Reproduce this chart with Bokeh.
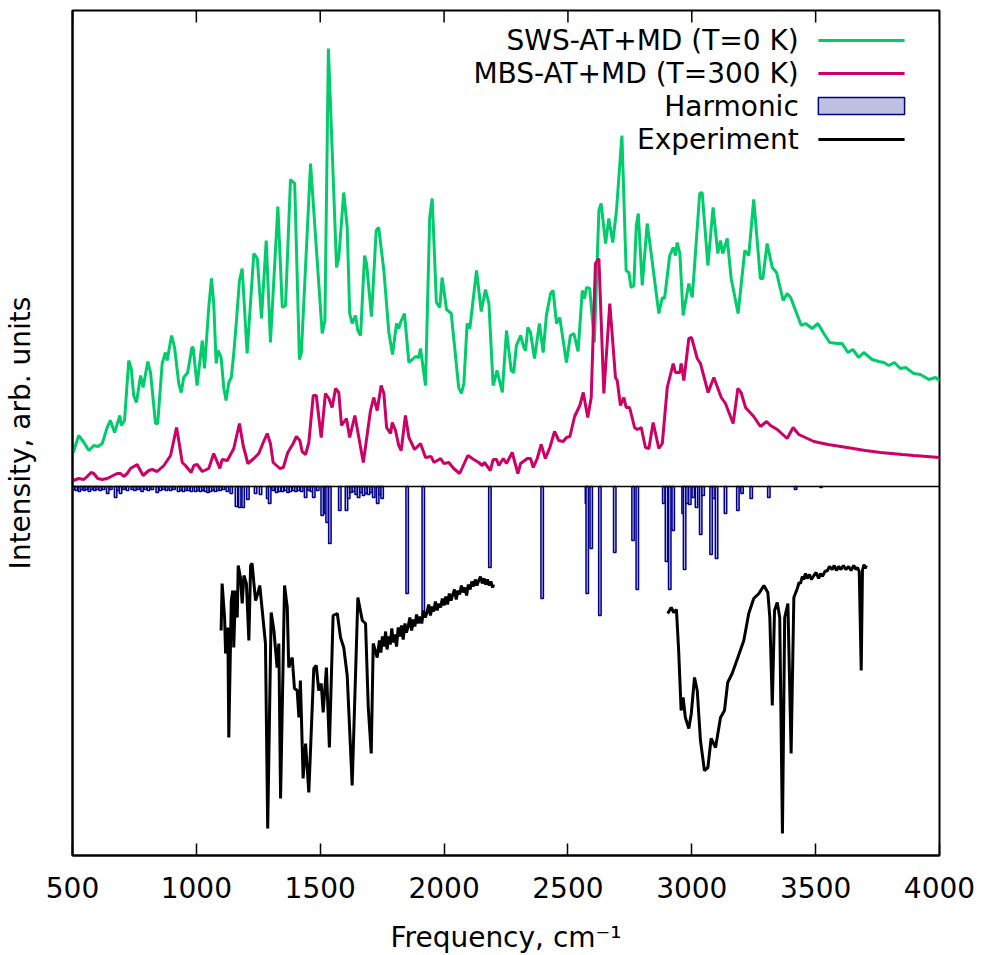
from bokeh.plotting import figure
from bokeh.models import Range1d, FixedTicker, Span, ColumnDataSource
from bokeh.core.properties import value
from bokeh.embed import file_html
from bokeh.resources import INLINE

# ---------------- data ----------------
sws_freq = [503, 525, 546, 566, 586, 602, 620, 640, 653, 670, 691, 697, 710, 727, 737, 747, 758, 775, 785,
            804, 815, 835, 844, 862, 875, 882, 900, 912, 929, 939, 949, 965, 982, 987, 1003, 1024, 1033, 1050,
            1061, 1070, 1080, 1088, 1100, 1111, 1120, 1131, 1141, 1151, 1162, 1174, 1185, 1205, 1232, 1246,
            1263, 1282, 1299, 1329, 1347, 1360, 1380, 1397, 1416, 1424, 1461, 1508, 1519, 1533, 1566, 1575,
            1595, 1609, 1619, 1629, 1642, 1652, 1663, 1679, 1687, 1707, 1726, 1736, 1757, 1777, 1792, 1808,
            1817, 1824, 1840, 1858, 1885, 1898, 1905, 1925, 1942, 1952, 1969, 1983, 1992, 2010, 2029, 2059,
            2070, 2080, 2093, 2104, 2131, 2150, 2167, 2181, 2198, 2214, 2235, 2252, 2271, 2281, 2292, 2309,
            2322, 2329, 2338, 2349, 2365, 2385, 2400, 2413, 2430, 2440, 2454, 2467, 2494, 2510, 2524, 2541,
            2558, 2567, 2575, 2588, 2607, 2625, 2634, 2652, 2665, 2681, 2696, 2712, 2718, 2735, 2746, 2755,
            2766, 2776, 2784, 2800, 2820, 2833, 2867, 2881, 2890, 2894, 2911, 2925, 2934, 2941, 2952, 2965,
            2988, 3002, 3032, 3042, 3065, 3086, 3105, 3116, 3125, 3143, 3159, 3187, 3214, 3230, 3250, 3277,
            3287, 3304, 3325, 3342, 3369, 3385, 3399, 3442, 3459, 3486, 3509, 3533, 3557, 3587, 3607, 3630,
            3650, 3674, 3694, 3728, 3755, 3775, 3795, 3818, 3842, 3863, 3896, 3923, 3957, 3984, 4000]
sws_int = [34, 51, 44, 36, 41, 40, 43, 59, 66, 54, 71, 61, 66, 126, 118, 91, 84, 111, 99,
           125, 114, 63, 63, 123, 134, 126, 151, 139, 103, 94, 109, 114, 139, 139, 101, 146, 118, 179,
           208, 184, 123, 136, 129, 98, 86, 104, 109, 133, 166, 206, 218, 133, 233, 228,
           168, 246, 144, 280, 179, 181, 307, 303, 127, 134, 323, 153, 166, 438, 219, 229,
           294, 259, 173, 163, 171, 156, 151, 231, 223, 170, 256, 259, 216, 154, 132, 163,
           158, 164, 173, 124, 130, 129, 138, 101, 269, 288, 184, 179, 209, 177, 173, 99,
           93, 103, 163, 158, 216, 175, 197, 183, 101, 116, 94, 156, 116, 114, 141, 151,
           139, 136, 159, 154, 128, 163, 134, 171, 193, 196, 163, 169, 124, 151, 153, 135,
           196, 188, 199, 198, 144, 276, 283, 243, 268, 244, 276, 331, 351, 216, 214, 199,
           201, 261, 273, 201, 263, 239, 173, 189, 188, 196, 231, 239, 231, 244, 233, 171,
           203, 189, 293, 294, 221, 279, 233, 246, 233, 248, 208, 173, 236, 231, 287, 208,
           208, 243, 219, 214, 186, 193, 189, 161, 163, 158, 163, 153, 144, 143, 143, 134,
           137, 129, 134, 127, 125, 124, 121, 124, 118, 119, 113, 112, 107, 109, 106]

mbs_freq = [503, 525, 546, 559, 575, 586, 602, 620, 640, 680, 694, 707, 721, 734, 761, 785, 808, 822, 842,
            869, 896, 920, 929, 943, 956, 979, 990, 1003, 1024, 1050, 1070, 1095, 1104, 1125, 1151, 1174,
            1189, 1208, 1232, 1252, 1270, 1286, 1299, 1310, 1337, 1351, 1369, 1391, 1404, 1418, 1427, 1441,
            1454, 1472, 1484, 1504, 1521, 1535, 1548, 1562, 1575, 1586, 1606, 1619, 1640, 1674, 1703, 1716,
            1730, 1746, 1757, 1768, 1784, 1791, 1804, 1817, 1827, 1844, 1858, 1881, 1905, 1925, 1948, 1959,
            1986, 1999, 2019, 2039, 2063, 2096, 2120, 2140, 2154, 2163, 2181, 2187, 2198, 2212, 2221, 2239,
            2252, 2275, 2298, 2309, 2336, 2349, 2360, 2376, 2392, 2409, 2427, 2446, 2463, 2481, 2494, 2508,
            2527, 2548, 2562, 2580, 2594, 2611, 2625, 2645, 2669, 2692, 2699, 2712, 2726, 2735, 2749, 2769,
            2780, 2796, 2813, 2827, 2844, 2867, 2881, 2901, 2925, 2934, 2952, 2957, 2968, 2988, 2999, 3022,
            3035, 3066, 3089, 3119, 3136, 3167, 3186, 3199, 3217, 3250, 3277, 3302, 3318, 3345, 3385, 3409,
            3432, 3493, 3550, 3627, 3700, 3762, 3850, 3896, 4000]
mbs_int = [6, 8, 7, 10, 14, 13, 8, 7, 8, 13, 13, 10, 13, 18, 22, 11, 16, 17, 15,
           21, 31, 59, 46, 24, 21, 14, 21, 22, 15, 18, 33, 18, 27, 26, 38, 63,
           41, 23, 28, 33, 44, 53, 43, 24, 18, 19, 34, 43, 50, 46, 35, 32,
           44, 91, 91, 49, 93, 88, 79, 98, 94, 61, 68, 49, 71, 24, 76, 89,
           76, 101, 93, 59, 53, 64, 56, 41, 36, 71, 49, 37, 43, 29, 30, 24,
           28, 23, 24, 18, 13, 31, 27, 24, 21, 24, 18, 16, 27, 27, 21, 28,
           23, 34, 13, 23, 28, 28, 19, 28, 42, 28, 39, 55, 46, 45, 49, 50,
           70, 81, 94, 69, 89, 223, 228, 93, 183, 109, 106, 81, 89, 79, 79, 59,
           57, 59, 39, 38, 64, 38, 43, 99, 123, 114, 114, 123, 106, 148, 149, 128,
           123, 94, 109, 89, 83, 63, 98, 94, 79, 70, 60, 65, 61, 57, 48, 59,
           52, 45, 42, 39, 36, 34, 32, 31, 29]

harm_freq = [505, 515, 528, 536, 548, 556, 568, 577, 590, 600, 612, 625, 642, 655, 674, 684, 694, 708, 722,
             741, 752, 765, 781, 795, 807, 822, 842, 855, 867, 880, 896, 910, 928, 938, 948, 958, 968, 980,
             997, 1007, 1017, 1027, 1037, 1047, 1057, 1067, 1077, 1087, 1097, 1110, 1125, 1141, 1162, 1175,
             1189, 1208, 1239, 1259, 1288, 1296, 1310, 1324, 1336, 1348, 1360, 1370, 1380, 1392, 1402, 1412,
             1425, 1441, 1455, 1465, 1474, 1490, 1508, 1521, 1528, 1539, 1579, 1606, 1615, 1625, 1634, 1645,
             1655, 1665, 1675, 1685, 1695, 1705, 1716, 1732, 1742, 1750, 1851, 1916, 2185, 2396, 2575, 2578,
             2594, 2629, 2689, 2763, 2780, 2887, 2898, 2911, 2925, 2965, 2971, 2981, 2992, 3006, 3019, 3036,
             3046, 3078, 3089, 3100, 3136, 3186, 3203, 3240, 3311, 3419, 3522]
harm_int = [3, 4, 5, 3, 4, 3, 5, 3, 4, 3, 4, 3, 7, 3, 11, 4, 7, 3, 4,
            3, 4, 3, 5, 3, 4, 3, 6, 4, 3, 4, 4, 3, 5, 4, 5, 4, 4, 5,
            5, 4, 5, 4, 5, 6, 5, 4, 5, 4, 4, 3, 5, 7, 20, 21,
            21, 13, 7, 8, 12, 17, 4, 6, 5, 5, 4, 6, 5, 4, 5, 4,
            5, 11, 4, 5, 11, 4, 29, 27, 36, 57, 24, 24, 12, 6, 5, 8,
            11, 6, 9, 7, 8, 6, 11, 17, 8, 12, 107, 131, 81, 112, 17, 107,
            62, 129, 66, 54, 103, 17, 75, 103, 44, 27, 83, 17, 18, 11, 21, 48,
            9, 68, 12, 72, 27, 24, 7, 12, 11, 3, 1]

exp1_freq = [1100, 1104, 1114, 1118, 1127, 1131, 1141, 1147, 1151, 1158, 1165, 1169, 1178, 1185, 1192, 1202,
             1212, 1219, 1225, 1232, 1239, 1248, 1256, 1266, 1279, 1288, 1302, 1313, 1326, 1333, 1340, 1356,
             1367, 1373, 1387, 1396, 1407, 1414, 1420, 1431, 1441, 1454, 1474, 1484, 1494, 1504, 1512, 1525,
             1537, 1552, 1569, 1582, 1595, 1609, 1629, 1652, 1670, 1683, 1694, 1706, 1714, 1730,
             1739, 1745, 1751, 1758, 1764, 1770, 1776, 1783, 1789, 1795, 1802, 1808, 1815, 1822, 1828, 1835,
             1842, 1848, 1855, 1862, 1869, 1876, 1882, 1889, 1896, 1903, 1910, 1917, 1924, 1931, 1938, 1945,
             1952, 1958, 1965, 1972, 1979, 1986, 1993, 2000, 2007, 2014, 2021, 2028, 2035, 2042, 2049, 2056,
             2063, 2070, 2077, 2084, 2091, 2098, 2105, 2112, 2119, 2126, 2133, 2140, 2147, 2154, 2161, 2168,
             2175, 2182, 2189, 2196, 2200]
exp1_int = [-144, -97, -131, -167, -141, -251, -114, -104, -161, -104, -131, -79, -91, -117, -89, -97,
            -154, -79, -77, -96, -114, -107, -99, -124, -157, -342, -126, -144, -181, -157, -312, -99,
            -121, -181, -171, -202, -204, -231, -194, -292, -257, -306, -182, -179, -204, -197, -226, -181,
            -261, -129, -127, -151, -161, -189, -299, -111, -134, -137, -221, -267, -157, -171,
            -154, -166, -150, -160, -145, -163, -150, -158, -142, -156, -148, -160, -141, -150, -139, -153,
            -137, -146, -140, -131, -144, -133, -140, -128, -137, -130, -137, -124, -131, -126, -118, -129,
            -120, -125, -115, -124, -117, -121, -112, -119, -110, -118, -107, -114, -108, -103, -113, -104,
            -108, -99, -106, -101, -109, -98, -103, -95, -100, -93, -99, -94, -90, -97, -92, -98,
            -93, -99, -95, -101, -98]

exp2_freq = [2903, 2917, 2927, 2938, 2947, 2957, 2965, 2974, 2988, 2998, 3011, 3022, 3035, 3051, 3065, 3078,
             3096, 3116, 3132, 3145, 3163, 3186, 3210, 3230, 3250, 3271, 3291, 3307, 3315, 3325, 3334, 3345,
             3355, 3366, 3375, 3388, 3401, 3412, 3426, 3433, 3439, 3446, 3452, 3459, 3466, 3475, 3483, 3493,
             3502, 3512, 3520, 3528, 3537, 3548, 3556, 3567, 3575, 3584, 3593, 3602, 3612, 3622, 3633, 3643,
             3654, 3663, 3669, 3676, 3684, 3689, 3695, 3700, 3705]
exp2_int = [-127, -121, -126, -123, -164, -224, -211, -231, -242, -227, -191, -204, -254, -284, -281, -252,
            -261, -231, -224, -196, -187, -171, -154, -127, -112, -107, -99, -106, -131, -219, -124, -116,
            -131, -347, -131, -117, -267, -111, -102, -96, -97, -90, -93, -87, -92, -88, -93, -89,
            -86, -92, -87, -90, -85, -84, -80, -83, -79, -84, -80, -83, -79, -83, -80, -84,
            -79, -83, -81, -85, -184, -84, -78, -82, -79]

x_ticks = [500, 1000, 1500, 2000, 2500, 3000, 3500, 4000]
legend_labels = ["SWS-AT+MD (T=0 K)", "MBS-AT+MD (T=300 K)", "Harmonic", "Experiment"]

GREEN = "#00cc6b"
PINK = "#cc0066"
NAVY = "#00008b"
LAV = "#c0c0e0"
FONT = "DejaVu Sans"
FS = "28px"
Y_TOP = 476

p = figure(frame_width=867, frame_height=845, output_backend="svg", toolbar_location=None,
           x_range=Range1d(500, 4000), y_range=Range1d(-369, Y_TOP),
           min_border_left=72, min_border_right=41, min_border_top=10, min_border_bottom=10,
           background_fill_color="white", border_fill_color="white")
p.grid.visible = False
p.outline_line_color = "black"
p.outline_line_width = 2

# bottom axis
xa = p.xaxis[0]
xa.ticker = FixedTicker(ticks=x_ticks)
xa.major_tick_in = 12
xa.major_tick_out = 0
xa.minor_tick_line_color = None
xa.major_tick_line_width = 1.5
xa.axis_line_width = 2
xa.major_label_text_font = FONT
xa.major_label_text_font_size = FS
xa.major_label_text_color = "black"
xa.major_label_standoff = 21
xa.axis_label = "Frequency, cm\u207b\u00b9"
xa.axis_label_text_font = FONT
xa.axis_label_text_font_size = FS
xa.axis_label_text_font_style = "normal"
xa.axis_label_text_color = "black"
xa.axis_label_standoff = 20

# left axis (label only)
ya = p.yaxis[0]
ya.ticker = FixedTicker(ticks=[])
ya.minor_tick_line_color = None
ya.major_tick_line_color = None
ya.axis_line_width = 2
ya.major_label_standoff = 0
ya.axis_label = "Intensity, arb. units"
ya.axis_label_text_font = FONT
ya.axis_label_text_font_size = FS
ya.axis_label_text_font_style = "normal"
ya.axis_label_text_color = "black"
ya.axis_label_standoff = 36

# mirrored ticks on the top edge (12 px inward; 1 y unit = 1 px)
p.segment(x0=x_ticks, y0=[Y_TOP] * len(x_ticks), x1=x_ticks, y1=[Y_TOP - 12] * len(x_ticks),
          line_color="black", line_width=1.5)

# zero line
p.add_layout(Span(location=0, dimension="width", line_color="black", line_width=1.5))

# curves
p.line(sws_freq, sws_int, line_color=GREEN, line_width=3)
p.line(mbs_freq, mbs_int, line_color=PINK, line_width=3)

hsrc = ColumnDataSource(dict(x=harm_freq, top=[0] * len(harm_int), bottom=[-v for v in harm_int]))
p.vbar(x="x", top="top", bottom="bottom", width=10, source=hsrc,
       fill_color=LAV, line_color=NAVY, line_width=1.5)

p.line(exp1_freq, exp1_int, line_color="black", line_width=3)
p.line(exp2_freq, exp2_int, line_color="black", line_width=3)

# legend (text to the left of samples, as in the reference)
leg_x_text = 3432
leg_x0, leg_x1 = 3511, 3859
leg_y = [446, 413, 380.5, 347]
p.text(x=[leg_x_text] * 4, y=leg_y, text=legend_labels, text_align="right", text_baseline="middle",
       text_font=value(FONT), text_font_size=value(FS), text_color="black")
p.segment(x0=[leg_x0], y0=[leg_y[0]], x1=[leg_x1], y1=[leg_y[0]], line_color=GREEN, line_width=3)
p.segment(x0=[leg_x0], y0=[leg_y[1]], x1=[leg_x1], y1=[leg_y[1]], line_color=PINK, line_width=3)
p.quad(left=[leg_x0], right=[leg_x1], bottom=[leg_y[2] - 8.5], top=[leg_y[2] + 8.5],
       fill_color=LAV, line_color=NAVY, line_width=1.5)
p.segment(x0=[leg_x0], y0=[leg_y[3]], x1=[leg_x1], y1=[leg_y[3]], line_color="black", line_width=3)

open("out.html", "w").write(file_html(p, INLINE))
